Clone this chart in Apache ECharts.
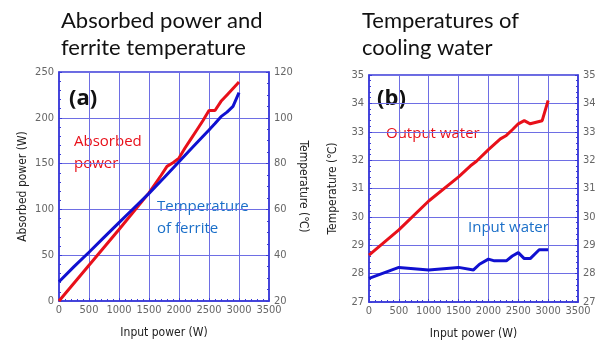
<!DOCTYPE html>
<html>
<head>
<meta charset="utf-8">
<script src="https://cdn.jsdelivr.net/npm/echarts@6/dist/echarts.min.js"></script>
<style>
html,body{margin:0;padding:0;background:#fff;}
#main{width:599px;height:345px;}
</style>
</head>
<body>
<div id="main"></div>
<script>
// (a) absorbed power and ferrite temperature
var powerX = [0,500,1000,1500,1700,1800,1900,2000,2100,2200,2300,2400,2500,2600,2700,2800,2900,3000];
var absorbedW = [0,39,78,118,137,147,151,156,167,177,187,197,208,208,218,225,232,239];
var ferriteX = [0,250,500,750,1000,1250,1500,1750,2000,2250,2500,2600,2700,2800,2900,3000];
var ferriteT = [28.4,35,41.3,47.8,54.2,60.6,67,73.8,80.8,87.8,94.7,97.5,100.5,102.5,105,111];
// (b) cooling water
var outX = [0,500,1000,1500,1700,1800,2000,2200,2300,2400,2500,2600,2700,2900,3000];
var outT = [28.65,29.54,30.56,31.41,31.8,31.96,32.37,32.75,32.87,33.07,33.28,33.39,33.28,33.39,34.1];
var inX = [0,500,1000,1500,1750,1850,2000,2100,2300,2400,2500,2600,2700,2850,3000];
var inT = [27.83,28.22,28.13,28.22,28.13,28.33,28.51,28.45,28.45,28.62,28.74,28.53,28.53,28.84,28.84];

function pairs(xs, ys){
  var out = [];
  for (var i = 0; i < xs.length; i++) out.push([xs[i], ys[i]]);
  return out;
}

var axisFont = '"DejaVu Sans Condensed", "Liberation Sans", sans-serif';
var lineBlue = '#3a3ad8';
var gridBlue = '#6e6ee4';

function xAx(gi){
  return {
    type:'value', gridIndex:gi, min:0, max:3500, interval:500,
    name:'Input power (W)', nameLocation:'middle', nameGap:26,
    nameTextStyle:{color:'#222', fontSize:12, fontFamily:axisFont},
    axisLine:{lineStyle:{color:lineBlue, width:1.5}},
    axisTick:{inside:true, length:3, lineStyle:{color:lineBlue}},
    minorTick:{show:true, splitNumber:5, length:2, lineStyle:{color:lineBlue}},
    axisLabel:{color:'#666', fontSize:11, fontFamily:axisFont, margin:4,
      showMaxLabel:true, hideOverlap:false, formatter:function(v){ return String(v); }},
    splitLine:{show:true, lineStyle:{color:gridBlue, width:1}}
  };
}
function yAx(gi, min, max, itv, pos, name, minor, nameRot, showSplit){
  return {
    type:'value', gridIndex:gi, min:min, max:max, interval:itv, position:pos,
    name:name, nameLocation:'middle', nameGap:(pos=='left'?30:24), nameRotate:nameRot,
    nameTextStyle:{color:'#222', fontSize:12, fontFamily:axisFont},
    axisLine:{show:true, lineStyle:{color:lineBlue, width:1.5}},
    axisTick:{show:true, inside:true, length:3, lineStyle:{color:lineBlue}},
    minorTick:{show:true, splitNumber:minor, length:2, lineStyle:{color:lineBlue}},
    axisLabel:{color:'#666', fontSize:11, fontFamily:axisFont, margin:5,
      formatter:function(v){ return String(v); }},
    splitLine:{show:showSplit, lineStyle:{color:gridBlue, width:1}}
  };
}

var chart = echarts.init(document.getElementById('main'));
var option = {
  backgroundColor:'#fff',
  animation:false,
  grid:[
    {left:59, top:72, width:210, height:229, show:true, borderColor:lineBlue, borderWidth:1.5},
    {left:369, top:75, width:209, height:228, show:true, borderColor:lineBlue, borderWidth:1.5}
  ],
  xAxis:[xAx(0), xAx(1)],
  yAxis:[
    yAx(0, 0, 250, 50, 'left', 'Absorbed power (W)', 5, 90, true),
    yAx(0, 20, 120, 20, 'right', 'Temperature (\u2103)', 4, -90, false),
    yAx(1, 27, 35, 1, 'left', 'Temperature (\u2103)', 5, 90, true),
    yAx(1, 27, 35, 1, 'right', '', 5, -90, false)
  ],
  series:[
    {type:'line', xAxisIndex:0, yAxisIndex:0, data:pairs(powerX, absorbedW), showSymbol:false,
      lineStyle:{color:'#e8101a', width:3}},
    {type:'line', xAxisIndex:0, yAxisIndex:1, data:pairs(ferriteX, ferriteT), showSymbol:false,
      lineStyle:{color:'#1010d0', width:3}},
    {type:'line', xAxisIndex:1, yAxisIndex:2, data:pairs(outX, outT), showSymbol:false,
      lineStyle:{color:'#e8101a', width:3}},
    {type:'line', xAxisIndex:1, yAxisIndex:2, data:pairs(inX, inT), showSymbol:false,
      lineStyle:{color:'#1010d0', width:3}}
  ],
  graphic:[
    {type:'text', left:61, top:7, style:{text:'Absorbed power and\nferrite temperature', fill:'#111', font:'22px Lato, sans-serif', lineHeight:27}},
    {type:'text', left:362, top:7, style:{text:'Temperatures of\ncooling water', fill:'#111', font:'22px Lato, sans-serif', lineHeight:27}},
    {type:'text', left:69, top:88, style:{text:'(a)', fill:'#111', font:'bold 22px "Open Sans", sans-serif'}},
    {type:'text', left:377, top:88, style:{text:'(b)', fill:'#111', font:'bold 22px "Open Sans", sans-serif'}},
    {type:'text', left:74, top:131, style:{text:'Absorbed\npower', fill:'#e8101a', font:'15px "Open Sans", sans-serif', lineHeight:22}},
    {type:'text', left:157, top:196, style:{text:'Temperature\nof ferrite', fill:'#1a6fc8', font:'15px "Open Sans", sans-serif', lineHeight:22}},
    {type:'text', left:386, top:126, style:{text:'Output water', fill:'#e8101a', font:'15px "Open Sans", sans-serif'}},
    {type:'text', left:468, top:220, style:{text:'Input water', fill:'#1a6fc8', font:'15px "Open Sans", sans-serif'}}
  ]
};
chart.setOption(option);
</script>
</body>
</html>
